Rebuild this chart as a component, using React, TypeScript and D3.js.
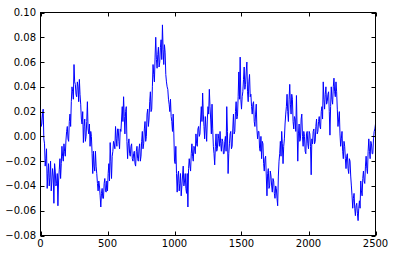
import React from "react";
import * as d3 from "d3";

// values (thousandths) at x = 0, 10, 20, ... 2500
const sampleMilli: number[] = [
  20, 10, 22, -6, -18, -42, -22, -33, -44, -26,
  -54, -28, -38, -56, -27, -34, -8, -20, -12, -3,
  8, -4, 18, 28, 36, 58, 42, 32, 40, 46,
  26, 10, -5, 14, 0, 28, 2, -8, 0, -30,
  -24, -12, -30, -44, -40, -57, -42, -50, -34, -45,
  -44, -22, -5, -34, -12, -6, 8, -8, 6, -10,
  4, 24, 32, 2, 24, -18, -2, -16, -6, -20,
  -12, -24, -8, -20, -6, -16, 4, -6, 12, 0,
  22, 14, 36, 22, 58, 44, 80, 55, 72, 60,
  78, 90, 58, 68, 44, 38, 26, 30, 12, 18,
  -20, -8, -45, -28, -38, -48, -32, -40, -30, -46,
  -57, -18, -28, -6, -20, -10, 2, -8, 8, 2,
  24, 35, 8, 16, -4, 24, 38, 14, 26, -8,
  -23, 2, -10, -2, 4, -12, -4, -14, 0, 24,
  -30, -6, 4, -8, 18, 4, 28, 16, 52, 64,
  22, 36, 56, 42, 60, 28, 50, 34, 18, 28,
  8, 26, -2, 4, -12, -18, -6, -28, -16, -48,
  -26, -40, -32, -45, -36, -50, -42, -56, -20, -4,
  4, -22, -2, 18, 34, 12, 42, 18, 30, 6,
  14, 33, -20, 10, -2, 18, -8, 0, -14, 4,
  -10, 2, -31, -6, 6, -4, 14, 4, 16, 6,
  24, 44, 22, 40, 28, 36, 1, 40, 26, 47,
  32, 36, 8, 20, -8, 4, -18, -8, -26, -14,
  -30, -20, -40, -58, -46, -64, -54, -68, -52, -36,
  -48, -28, -38, -16, -30, -2, -18, -6, -14, 4,
  10,
];
// values (thousandths) read at x = 5, 15, 25, ... 2495
const midMilli: number[] = [
  8, 18, -2, -24, -10, -30, -40, -20, -36, -32,
  -22, -40, -30, -36, -18, -22, -16, -6, -16, 4,
  -2, 12, 8, 40, 30, 44, 34, 44, 28, 34,
  14, 20, 8, -4, 12, 6, 10, 4, -14, -12,
  -28, -24, -38, -36, -48, -46, -50, -38, -44, -36,
  -30, -36, -20, -16, -4, -10, -2, 6, -4, 6,
  14, 12, 16, 20, -4, -6, -14, -8, -18, -14,
  -22, -12, -18, -10, -20, -4, -10, 6, -4, 18,
  8, 28, 20, 40, 50, 64, 62, 66, 56, 72,
  62, 70, 74, 50, 40, 30, 20, 16, 4, 2,
  -22, -30, -32, -44, -30, -40, -24, -36, -42, -30,
  -26, -24, -14, -16, -8, -14, -6, 6, 0, 14,
  12, 18, -2, 6, 14, 18, 24, 2, 6, -14,
  -8, -12, 2, -8, -6, -2, -14, -4, -12, 4,
  -14, 2, -10, 6, 2, 20, 14, 32, 30, 30,
  32, 46, 38, 52, 36, 44, 32, 24, 26, 12,
  18, 6, 4, -10, 0, -4, -22, -18, -32, -30,
  -42, -28, -40, -34, -46, -40, -50, -32, -14, -16,
  -6, -8, 10, 24, 20, 30, 26, 34, 12, 16,
  4, 6, 2, -4, 14, 0, 4, -12, 2, -6,
  4, -8, -2, 4, -6, 8, 2, 12, 8, 20,
  14, 30, 34, 26, 34, 20, 24, 30, 40, 36,
  44, 22, 14, 2, -2, -12, -4, -18, -16, -26,
  -18, -32, -48, -50, -58, -56, -62, -58, -58, -44,
  -34, -36, -24, -26, -12, -12, -4, -14, -2, 6,
];
const seriesMilli: number[] = sampleMilli.flatMap((v, i) =>
  i < midMilli.length ? [v, midMilli[i]] : [v]
);
const xValues: number[] = seriesMilli.map((_, i) => i * 5);
const seriesValues: number[] = seriesMilli.map((v) => v / 1000);
const xTicks: number[] = [0, 500, 1000, 1500, 2000, 2500];
const yTicks: number[] = [-0.08, -0.06, -0.04, -0.02, 0, 0.02, 0.04, 0.06, 0.08, 0.1];

export default function App() {
  const W = 394, H = 256;
  const L = 40.5, R = 375.5, T = 12.5, B = 235.5;
  const x = d3.scaleLinear().domain([0, 2500]).range([L, R]);
  const y = d3.scaleLinear().domain([-0.08, 0.1]).range([B, T]);
  const line = d3
    .line<number>()
    .x((_, i) => x(xValues[i]))
    .y((d) => y(d));
  const fmt = (v: number) => d3.format(".2f")(v).replace("-", "\u2212");
  const tl = 4;
  return (
    <svg
      width={W}
      height={H}
      style={{ position: "absolute", left: 0, top: 0, background: "#fff" }}
      fontFamily="DejaVu Sans"
      fontSize={10}
    >
      <defs>
        <clipPath id="clip">
          <rect x={L} y={T} width={R - L} height={B - T} />
        </clipPath>
      </defs>
      <path
        d={line(seriesValues) || ""}
        fill="none"
        stroke="#0000ff"
        strokeWidth={1}
        clipPath="url(#clip)"
      />
      <rect x={L} y={T} width={R - L} height={B - T} fill="none" stroke="#000" strokeWidth={1} />
      {xTicks.map((t) => {
        const px = Math.round(x(t)) + 0.5;
        return (
          <g key={"x" + t}>
            <line x1={px} x2={px} y1={B} y2={B - tl} stroke="#000" />
            <line x1={px} x2={px} y1={T} y2={T + tl} stroke="#000" />
            <text x={x(t)} y={247} textAnchor="middle" fill="#000">
              {t}
            </text>
          </g>
        );
      })}
      {yTicks.map((t) => {
        const py = Math.round(y(t)) + 0.5;
        return (
          <g key={"y" + t}>
            <line x1={L} x2={L + tl} y1={py} y2={py} stroke="#000" />
            <line x1={R} x2={R - tl} y1={py} y2={py} stroke="#000" />
            <text x={36} y={y(t) + 3.5} textAnchor="end" fill="#000">
              {fmt(t)}
            </text>
          </g>
        );
      })}
    </svg>
  );
}
